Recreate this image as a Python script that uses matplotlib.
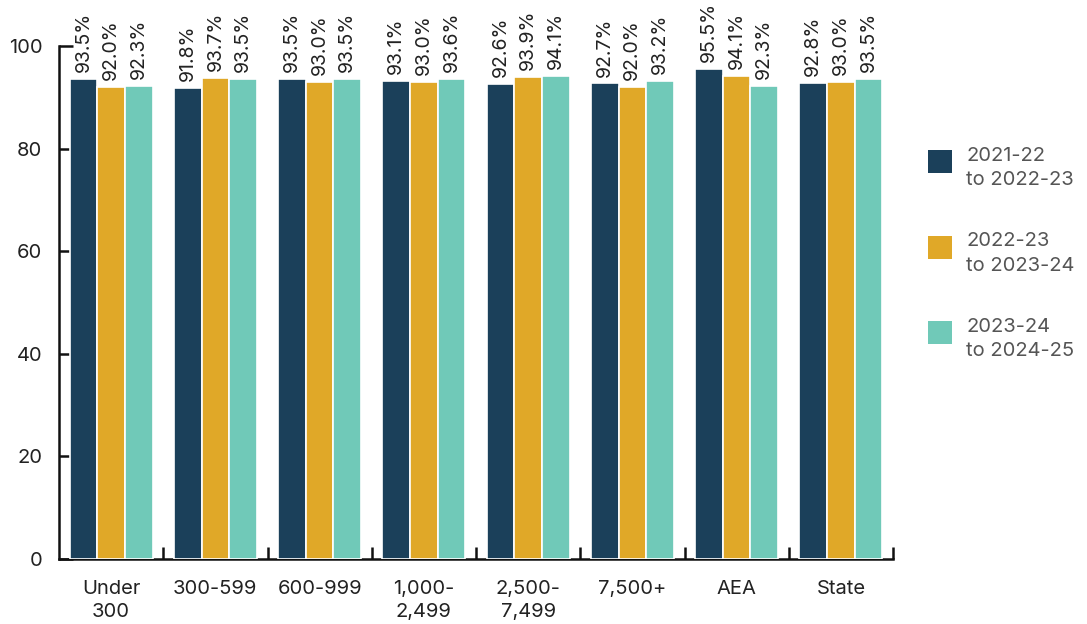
import matplotlib
matplotlib.use("Agg")
import matplotlib.pyplot as plt
from matplotlib.patches import Rectangle
import numpy as np

plt.rcParams['font.family'] = ['Inter', 'DejaVu Sans']

categories = ["Under\n300", "300-599", "600-999", "1,000-\n2,499", "2,500-\n7,499",
              "7,500+", "AEA", "State"]
series_names = ["2021-22\nto 2022-23", "2022-23\nto 2023-24", "2023-24\nto 2024-25"]
s2122 = [93.5, 91.8, 93.5, 93.1, 92.6, 92.7, 95.5, 92.8]
s2223 = [92.0, 93.7, 93.0, 93.0, 93.9, 92.0, 94.1, 93.0]
s2324 = [92.3, 93.5, 93.5, 93.6, 94.1, 93.2, 92.3, 93.5]
colors = ["#1b405a", "#e0a828", "#70c9b8"]

W, H = 1087, 624
fig = plt.figure(figsize=(W / 100, H / 100), dpi=100)
ax = fig.add_axes([59 / W, 1 - 559 / H, (893 - 59) / W, (559 - 46) / H])

x = np.arange(len(categories))
width = 0.265
for i, (vals, col) in enumerate(zip([s2122, s2223, s2324], colors)):
    bars = ax.bar(x + (i - 1) * width, vals, width, color=col, edgecolor="white",
                  linewidth=1.2, zorder=3)
    ax.bar_label(bars, labels=[f"{v:.1f}%" for v in vals], rotation=90, padding=5,
                 fontsize=14, color="#222222")

ax.set_xlim(-0.5, len(categories) - 0.5)
ax.set_ylim(0, 100)
ax.set_yticks([0, 20, 40, 60, 80, 100])

ax.set_xticks(np.arange(len(categories)) + 0.5)
ax.set_xticklabels([])
ax.set_xticks(x, minor=True)
ax.set_xticklabels(categories, minor=True, fontsize=14.5, color="#222222",
                   linespacing=1.4, va="top")
ax.tick_params(axis="x", which="minor", length=0, pad=15)
ax.tick_params(axis="x", which="major", direction="in", length=9, width=1.8, color="#111111")
ax.tick_params(axis="y", direction="in", length=10, width=1.8, color="#111111",
               labelsize=14.5, labelcolor="#222222", pad=12)

for side in ["top", "right"]:
    ax.spines[side].set_visible(False)
for side in ["left", "bottom"]:
    ax.spines[side].set_linewidth(1.8)
    ax.spines[side].set_color("#111111")
ax.spines["bottom"].set_zorder(2)

# Legend: colour swatch beside a two-line label, stacked down the right side
for i, (name, col) in enumerate(zip(series_names, colors)):
    top = 150 + 85.5 * i
    fig.patches.append(Rectangle((928 / W, 1 - (top + 23) / H), 24 / W, 23 / H,
                                 transform=fig.transFigure, facecolor=col,
                                 edgecolor="none"))
    fig.text(966 / W, 1 - (top - 3) / H, name, ha="left", va="top", fontsize=14.5,
             color="#555555", linespacing=1.45)

fig.savefig("out.png", dpi=100)
